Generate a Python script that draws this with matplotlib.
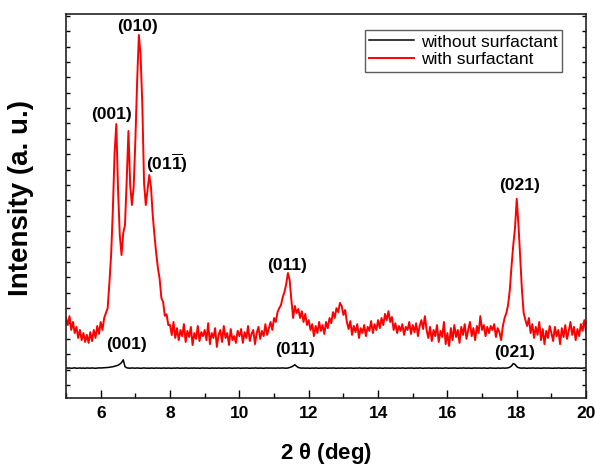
import numpy as np
import matplotlib
matplotlib.use("Agg")
import matplotlib.pyplot as plt
from matplotlib.ticker import MultipleLocator

plt.rcParams['font.family'] = ['Liberation Sans', 'DejaVu Sans']
plt.rcParams['mathtext.fontset'] = 'custom'
plt.rcParams['mathtext.bf'] = 'Liberation Sans:bold'
plt.rcParams['mathtext.rm'] = 'Liberation Sans:bold'
plt.rcParams['mathtext.default'] = 'bf'

# 2 theta grid (deg), step 0.05
two_theta = np.linspace(5, 20, 301)

# with surfactant (counts), one row per degree
with_surf = [
    2180, 1950, 2240, 1790, 2050, 1690, 1890, 1530, 1790, 1460, 1690, 1400, 1630, 1370, 1720, 1430, 1790, 1530, 1920, 1660,
    2050, 1790, 2180, 2340, 2500, 3315, 4225, 5690, 7540, 8480, 6340, 4875, 4225, 4940, 5200, 6660, 8255, 6500, 5850, 6435,
    7960, 9850, 11375, 10725, 9100, 6565, 5850, 6340, 6825, 6435, 5525, 4875, 4290, 3800, 3450, 2830, 2700, 2250, 2300, 1950,
    1950, 1625, 2050, 1530, 1850, 1460, 1790, 1590, 1980, 1400, 1760, 1560, 1890, 1300, 1690, 1500, 1920, 1430, 1720, 1590,
    1790, 1460, 2010, 1330, 1690, 1530, 1850, 1240, 1630, 1790, 1400, 1920, 1530, 1690, 1300, 1820, 1460, 1590, 1370, 1760,
    1590, 1820, 1370, 1720, 1530, 1920, 1430, 1660, 1790, 1330, 1690, 1890, 1500, 1760, 1590, 1980, 1630, 1850, 2050, 1790,
    2180, 2050, 2370, 2500, 2600, 2860, 3020, 3280, 3640, 3410, 2760, 2180, 2570, 2340, 2470, 2180, 2400, 2050, 2310, 1950,
    2110, 1790, 1980, 1590, 1920, 1690, 2050, 1760, 1950, 1660, 2050, 1850, 2180, 2010, 2370, 2180, 2500, 2370, 2670, 2570,
    2280, 2440, 2050, 1820, 2080, 1630, 1920, 1720, 1980, 1530, 1850, 1690, 1950, 1590, 1890, 1760, 2080, 1690, 1980, 1790,
    2110, 1850, 2180, 1950, 2310, 2110, 2400, 2050, 2210, 1790, 2010, 1690, 1920, 1760, 1980, 1630, 1890, 1790, 2050, 1660,
    1950, 1720, 2010, 1590, 1920, 2110, 1820, 2240, 1790, 1530, 1890, 1430, 1790, 1590, 1950, 1400, 1760, 1560, 2050, 1330,
    1690, 1270, 1850, 1460, 1950, 1560, 1790, 1370, 1890, 1630, 1980, 1500, 1790, 2050, 1590, 1850, 1460, 1920, 1690, 2240,
    1790, 1950, 1590, 1890, 1690, 1920, 1790, 1980, 1560, 1850, 1720, 1460, 1920, 2180, 2340, 2600, 3090, 3870, 4550, 5100,
    6050, 5200, 4130, 3090, 2340, 2110, 1920, 2180, 1690, 1980, 1530, 1890, 1630, 2050, 1460, 1820, 1330, 1760, 1530, 1920,
    1690, 1430, 1890, 1590, 1790, 1330, 1850, 1560, 1950, 1500, 1760, 2050, 1630, 1890, 1460, 1820, 1590, 1980, 1760, 2110,
    1720,
]

# without surfactant (counts)
without_surf = [
    560, 550, 555, 545, 550, 560, 545, 550, 555, 548, 552, 545, 555, 550, 548, 556, 550, 545, 552, 558,
    555, 558, 560, 565, 570, 578, 585, 595, 610, 625, 645, 680, 730, 820, 600, 560, 552, 548, 555, 550,
    548, 555, 550, 545, 552, 556, 548, 550, 545, 553, 550, 547, 555, 549, 552, 546, 554, 550, 548, 553,
    550, 545, 553, 548, 556, 550, 545, 552, 548, 555, 550, 546, 553, 549, 555, 548, 552, 545, 550, 556,
    548, 553, 550, 545, 555, 549, 552, 547, 554, 550, 546, 553, 550, 548, 556, 550, 545, 552, 549, 555,
    550, 546, 553, 549, 555, 550, 545, 552, 548, 556, 550, 547, 553, 550, 545, 552, 555, 549, 553, 550,
    552, 548, 555, 550, 553, 556, 550, 548, 555, 570, 590, 620, 660, 610, 570, 555, 550, 553, 548, 552,
    550, 546, 553, 548, 555, 550, 545, 552, 549, 555, 550, 547, 553, 549, 556, 550, 545, 552, 548, 553,
    550, 546, 553, 549, 555, 550, 545, 552, 548, 556, 550, 547, 553, 550, 545, 552, 555, 549, 553, 550,
    548, 553, 550, 545, 555, 549, 552, 547, 554, 550, 546, 553, 550, 548, 556, 550, 545, 552, 549, 555,
    550, 545, 553, 548, 556, 550, 545, 552, 548, 555, 550, 546, 553, 549, 555, 548, 552, 545, 550, 556,
    550, 546, 553, 549, 555, 550, 545, 552, 548, 556, 550, 547, 553, 550, 545, 552, 555, 549, 553, 550,
    548, 555, 550, 545, 552, 556, 548, 550, 545, 553, 550, 547, 555, 549, 552, 560, 580, 620, 700, 670,
    600, 565, 553, 549, 555, 550, 545, 552, 548, 556, 550, 547, 553, 550, 545, 552, 555, 549, 553, 550,
    550, 545, 553, 548, 556, 550, 545, 552, 548, 555, 550, 546, 553, 549, 555, 548, 552, 545, 550, 556,
    552,
]

# peak labels: (text, 2theta, intensity)
peak_labels = [
    ('(001)', 6.32, 8780),
    ('(010)', 7.07, 11650),
    (r'(01$\overline{1}$)', 7.91, 7215),
    ('(011)', 11.37, 3870),
    ('(021)', 18.07, 6500),
    ('(001)', 6.74, 1330),
    ('(011)', 11.62, 1140),
    ('(021)', 17.93, 1050),
]

fig = plt.figure(figsize=(5.95, 4.65), dpi=100)
ax = fig.add_axes([0.111, 0.144, 0.874, 0.826])

ax.plot(two_theta, without_surf, color='black', lw=1.1, label='without surfactant')
ax.plot(two_theta, with_surf, color='red', lw=1.4, label='with surfactant')

for txt, xx, yy in peak_labels:
    ax.text(xx, yy, txt, ha='center', va='center', fontsize=12.5, fontweight='bold')

ax.set_xlim(5, 20)
ax.set_ylim(-422, 12058)
ax.xaxis.set_major_locator(MultipleLocator(2))
ax.xaxis.set_minor_locator(MultipleLocator(1))
ax.yaxis.set_major_locator(MultipleLocator(500))
ax.tick_params(axis='x', which='major', direction='in', length=6, width=1, labelsize=12.5, pad=6)
ax.tick_params(axis='x', which='minor', direction='in', length=3.5, width=1)
ax.tick_params(axis='y', which='major', direction='in', length=3, width=1, left=True, right=True, labelleft=False)
for lab in ax.get_xticklabels():
    lab.set_fontweight('bold')
    lab.set_family(['Liberation Sans Narrow', 'Liberation Sans'])
for sp in ax.spines.values():
    sp.set_linewidth(1.2)
    sp.set_color('#222222')

ax.set_xlabel(r'2 $\mathrm{\theta}$ (deg)', fontsize=16, fontweight='bold', labelpad=14)
ax.set_ylabel('Intensity (a. u.)', fontsize=20, fontweight='bold')
ax.yaxis.set_label_coords(-0.061, 0.52)

leg = ax.legend(loc='upper right', bbox_to_anchor=(0.954, 0.958), fontsize=12.5, frameon=True,
                fancybox=False, edgecolor='#333333', borderpad=0.25, handlelength=2.6,
                handletextpad=0.4, labelspacing=0.15, borderaxespad=0)
leg.get_frame().set_linewidth(1.0)

fig.savefig('out.png', dpi=100)
